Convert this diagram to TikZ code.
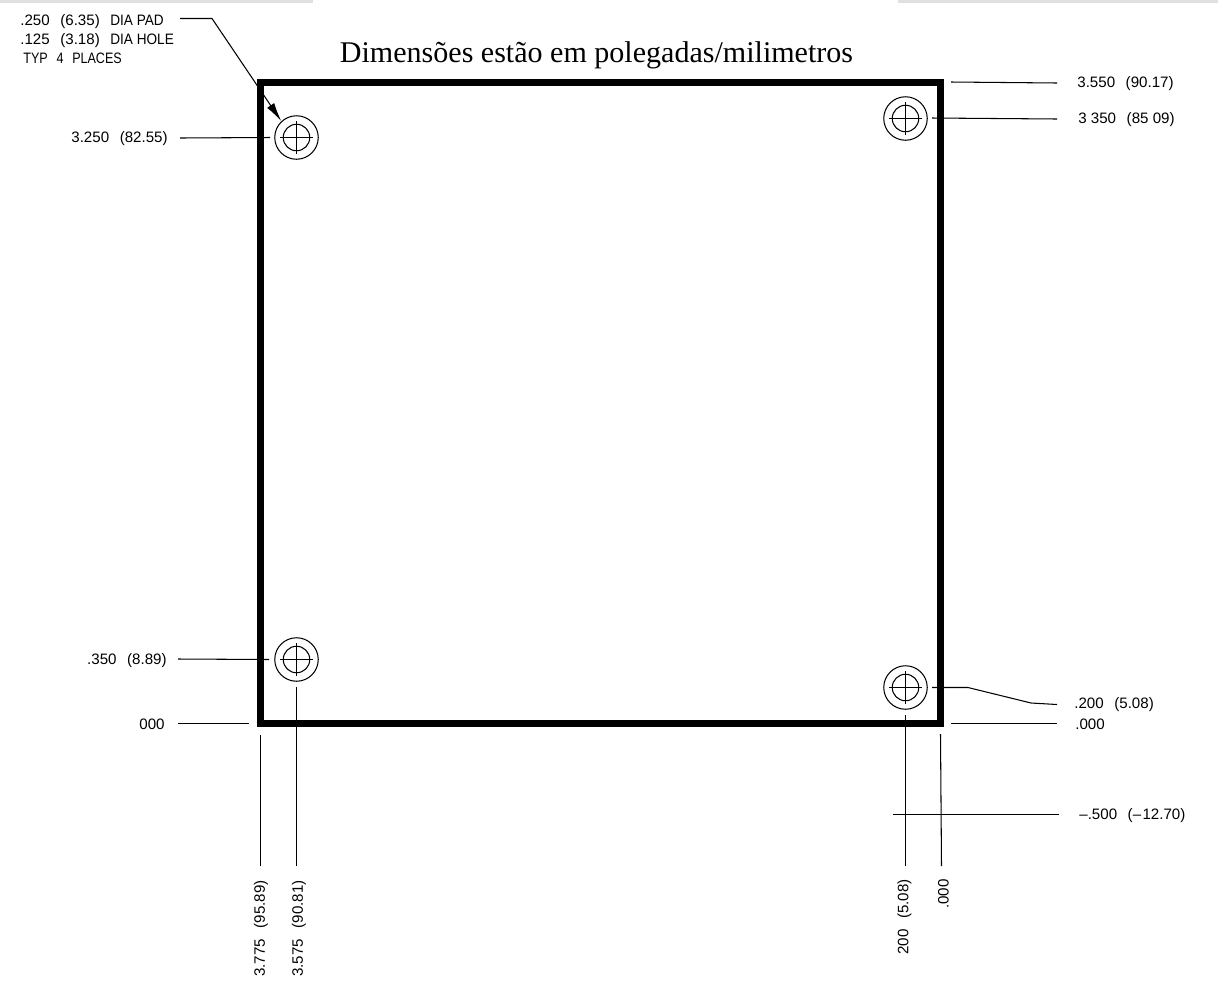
\documentclass[tikz,border=0pt]{standalone}
\usepackage{fontspec}
\usepackage{graphicx}
\setmainfont{Liberation Sans}
\newfontfamily\titlefont{Liberation Serif}
\usepackage{tikz}
\usetikzlibrary{arrows.meta}
\tikzset{
  dim/.style={inner sep=0pt,font=\fontsize{8.6}{10}\selectfont},
  pad/.style={draw,circle,line width=0.6pt,minimum size=0.87cm,inner sep=0pt},
  hole/.style={draw,circle,line width=0.6pt,minimum size=0.53cm,inner sep=0pt},
  lead/.style={line width=0.6pt}
}
\def\HOLE#1#2{\node[pad] (pad#1) at (#2) {}; \node[hole] (hole#1) at (#2) {};
  \draw[lead] (#2) ++(-16.5,0) -- ++(33,0); \draw[lead] (#2) ++(0,-16.5) -- ++(0,33);}
\def\GAP{\hspace{0.7em}}
\def\CAPS#1#2{\scalebox{#1}[1]{#2}}

\begin{document}
\begin{tikzpicture}[x=0.02cm,y=-0.02cm]
  \useasboundingbox (0,0) rectangle (1218,1005);
  \fill[black!12] (0,0) rectangle (313,3);
  \fill[black!12] (898,0) rectangle (1218,3);
\node[inner sep=0pt,font=\titlefont\fontsize{17.1}{20}\selectfont] (title) at (596.5,55.5) {Dimensões estão em polegadas/milimetros};
\draw[line width=3.7pt] (260.5,82.5) rectangle (940.5,723.5);
% mounting holes
\HOLE{TL}{296.5,137.5}
\HOLE{TR}{905.5,118.5}
\HOLE{BL}{296.5,659.5}
\HOLE{BR}{905.5,687.5}
% left side
\node[dim,anchor=west] (padtxt) at (20,21.5) {.250\GAP(6.35)\GAP\CAPS{0.9}{DIA PAD}};
\node[dim,anchor=west] (holetxt) at (20,40.5) {.125\GAP(3.18)\GAP\CAPS{0.9}{DIA HOLE}};
\node[dim,anchor=west] (typtxt) at (23,58.5) {\CAPS{0.83}{TYP\GAP 4\GAP PLACES}};
\node[dim,anchor=east] (yTL) at (168,138.5) {3.250\GAP(82.55)};
\node[dim,anchor=east] (yBL) at (167,660.5) {.350\GAP(8.89)};
\node[dim,anchor=east] (yzeroL) at (165,724.5) {000};
\coordinate (a1) at (180,18.5); \coordinate (a2) at (212,18.5);
\coordinate (b1) at (180,138); \coordinate (b2) at (270,137.5);
\coordinate (c1) at (178,659); \coordinate (c2) at (269,659.5);
\coordinate (d1) at (178,723.5); \coordinate (d2) at (249,723.5);
\draw[lead,-{Latex[length=0.38cm,width=0.17cm]}] (a1) -- (a2) -- (padTL.133);
\draw[lead] (b1) -- (b2);
\draw[lead] (c1) -- (c2);
\draw[lead] (d1) -- (d2);
% right side
\node[dim,anchor=west] (ytop) at (1077,84) {3.550\GAP(90.17)};
\node[dim,anchor=west] (yTR) at (1078,119.5) {3 350\GAP(85 09)};
\node[dim,anchor=west] (yBR) at (1074,704.5) {.200\GAP(5.08)};
\node[dim,anchor=west] (yzeroR) at (1075,724.5) {.000};
\node[dim,anchor=west] (ybot) at (1079,815.5) {--.500\GAP(--\kern0.8pt 12.70)};
\coordinate (e1) at (951,82); \coordinate (e2) at (1057,83);
\coordinate (f1) at (932,118); \coordinate (f2) at (1057,119);
\coordinate (g1) at (932,687.5); \coordinate (g2) at (968,687.5);
\coordinate (g3) at (1031,703); \coordinate (g4) at (1057,704.5);
\coordinate (h1) at (951,723.5); \coordinate (h2) at (1057,723.5);
\coordinate (i1) at (893,814.5); \coordinate (i2) at (1059,814.5);
\draw[lead] (e1) -- (e2);
\draw[lead] (f1) -- (f2);
\draw[lead] (g1) -- (g2) -- (g3) -- (g4);
\draw[lead] (h1) -- (h2);
\draw[lead] (i1) -- (i2);
% bottom
\node[dim,rotate=90,anchor=west] (xTL) at (261,977) {3.775\GAP(95.89)};
\node[dim,rotate=90,anchor=west] (xBL) at (299,977) {3.575\GAP(90.81)};
\node[dim,rotate=90,anchor=west] (xBR) at (904.5,955) {200\GAP(5.08)};
\node[dim,rotate=90,anchor=west] (xzero) at (943.5,909) {.000};
\coordinate (j1) at (260.5,735); \coordinate (j2) at (260.5,866);
\coordinate (k1) at (296.5,687); \coordinate (k2) at (296.5,866);
\coordinate (l1) at (905.5,715); \coordinate (l2) at (905.5,866);
\coordinate (m1) at (940.5,734); \coordinate (m2) at (941.5,866);
\draw[lead] (j1) -- (j2);
\draw[lead] (k1) -- (k2);
\draw[lead] (l1) -- (l2);
\draw[lead] (m1) -- (m2);
\end{tikzpicture}
\end{document}
